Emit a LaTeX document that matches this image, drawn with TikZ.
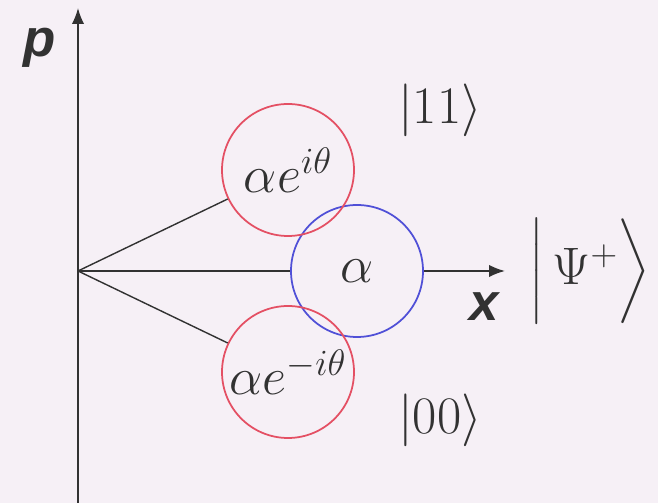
\RequirePackage{fix-cm}
\documentclass[tikz,border=0pt]{standalone}
\usepackage{amsmath}
\usepackage{fontspec}
\newfontfamily\axisfont{Liberation Sans}
\usetikzlibrary{arrows.meta,positioning}
\definecolor{bgpink}{RGB}{246,240,246}
\definecolor{ink}{RGB}{50,50,50}
\definecolor{redring}{RGB}{228,80,100}
\definecolor{bluering}{RGB}{80,80,215}

\begin{document}
\begin{tikzpicture}[
  font=\fontsize{30}{36}\selectfont,
  text=ink,
  state/.style={circle, draw, line width=1pt, minimum size=2.64cm, inner sep=0pt},
  axis/.style={-{Latex[length=9pt,width=7pt]}, line width=1pt, draw=ink},
  ray/.style={line width=0.8pt, draw=ink},
  axlabel/.style={font=\axisfont\bfseries\itshape\fontsize{30}{36}\selectfont}
]
\fill[bgpink] (0,0) rectangle (13.16,10.06);
\coordinate (O) at (1.56,4.64);
\coordinate (ybot) at (1.56,0);
\coordinate (ytop) at (1.56,9.9);
\coordinate (xtip) at (10.1,4.64);
\draw[axis] (ybot) -- (ytop);
\draw[axis] (O) -- (xtip);
\node[state, draw=bluering, fill=bgpink] (a) at (7.14,4.64) {$\alpha$};
\node[state, draw=redring] (up) at (5.76,6.66) {$\alpha e^{i\theta}$};
\node[state, draw=redring] (dn) at (5.76,2.62) {$\alpha e^{-i\theta}$};
\draw[ray] (O) -- (up);
\draw[ray] (O) -- (dn);
\node[axlabel] (pl) at (0.8,9.1) {p};
\node[axlabel, below left=0.3cm and 0.0cm of xtip] (xl) {x};
\node (k11) at (8.8,7.86) {$|11\rangle$};
\node (k00) at (8.8,1.66) {$|00\rangle$};
\node (psi) at (11.8,4.64) {$\Bigl|\,\Psi^{+}\Bigr\rangle$};
\end{tikzpicture}
\end{document}
